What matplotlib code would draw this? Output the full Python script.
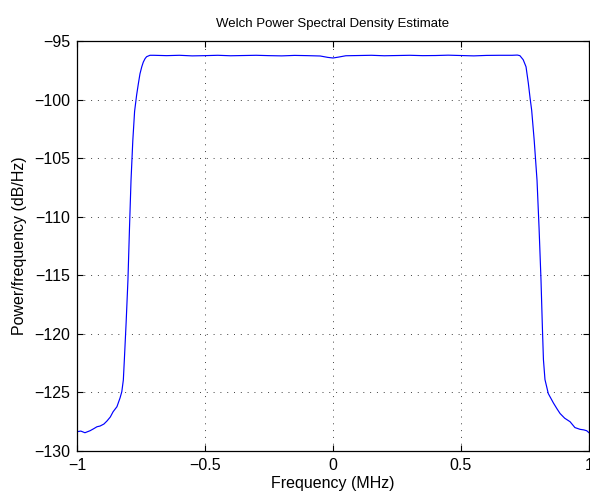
import matplotlib
matplotlib.use("Agg")
import numpy as np
import matplotlib.pyplot as plt

plt.rcParams['font.family'] = ['Liberation Sans', 'DejaVu Sans']

# frequency (MHz) and PSD (dB/Hz)
freq = [-1.0, -0.985, -0.969, -0.949, -0.935, -0.922, -0.910, -0.895, -0.883,
        -0.870, -0.859, -0.844, -0.832, -0.825, -0.819, -0.815, -0.808, -0.801,
        -0.795, -0.789, -0.782, -0.775, -0.767, -0.760, -0.754, -0.747, -0.741,
        -0.734, -0.728, -0.715, -0.70, -0.65, -0.60, -0.55, -0.50, -0.45, -0.40,
        -0.35, -0.30, -0.25, -0.20, -0.15, -0.10, -0.05, -0.02, 0.0, 0.02, 0.05,
        0.10, 0.15, 0.20, 0.25, 0.30, 0.35, 0.40, 0.45, 0.50, 0.55, 0.60, 0.65,
        0.70, 0.72, 0.730, 0.743, 0.754, 0.763, 0.770, 0.776, 0.786, 0.797,
        0.805, 0.8125, 0.818, 0.822, 0.828, 0.841, 0.851, 0.861, 0.875, 0.887,
        0.905, 0.926, 0.945, 0.965, 0.980, 0.991, 1.0]
psd = [-128.35, -128.30, -128.44, -128.27, -128.10, -127.93, -127.87, -127.70,
       -127.44, -127.10, -126.65, -126.22, -125.48, -124.94, -123.94, -122.2,
       -119.0, -115.4, -111.0, -106.9, -103.5, -101.0, -99.6, -98.6, -97.8,
       -97.2, -96.8, -96.5, -96.34, -96.22, -96.22, -96.25, -96.22, -96.27,
       -96.25, -96.22, -96.26, -96.24, -96.22, -96.25, -96.27, -96.23, -96.25,
       -96.28, -96.40, -96.45, -96.38, -96.26, -96.24, -96.22, -96.26, -96.24,
       -96.22, -96.25, -96.24, -96.21, -96.24, -96.27, -96.23, -96.22, -96.22,
       -96.2, -96.25, -96.6, -97.2, -98.6, -99.9, -100.9, -103.5, -106.9, -111.0,
       -115.4, -119.5, -122.2, -123.9, -125.1, -125.5, -125.9, -126.4, -126.8,
       -127.2, -127.5, -128.0, -128.15, -128.2, -128.27, -128.44]

xticks = [-1, -0.5, 0, 0.5, 1]
yticks = [-130, -125, -120, -115, -110, -105, -100, -95]

fig = plt.figure(figsize=(5.9, 4.91), dpi=100)
ax = fig.add_axes([77 / 590, 40 / 491, 512 / 590, 410 / 491])

ax.plot(freq, psd, color='#0000ff', linewidth=0.85)

ax.set_xlim(-1, 1)
ax.set_ylim(-130, -95)
ax.set_xticks(xticks)
ax.set_xticklabels(['\u22121', '\u22120.5', '0', '0.5', '1'])
ax.set_yticks(yticks)
ax.set_yticklabels(['\u2212%d' % abs(v) for v in yticks])

#matlab style grid and ticks
ax.grid(True, color='0.25', linestyle=(0, (1, 6)), linewidth=0.7)
ax.tick_params(direction='in', length=4, width=0.8, top=True, right=True,
               labelsize=11.5)
ax.tick_params(axis='y', pad=5)
ax.tick_params(axis='x', pad=5)
for s in ax.spines.values():
    s.set_linewidth(0.9)

ax.set_title('Welch Power Spectral Density Estimate', fontsize=9.5, pad=10)
ax.set_xlabel('Frequency (MHz)', fontsize=11.5, labelpad=2)
ax.set_ylabel('Power/frequency (dB/Hz)', fontsize=11.5, labelpad=5)

fig.savefig('out.png', dpi=100)
